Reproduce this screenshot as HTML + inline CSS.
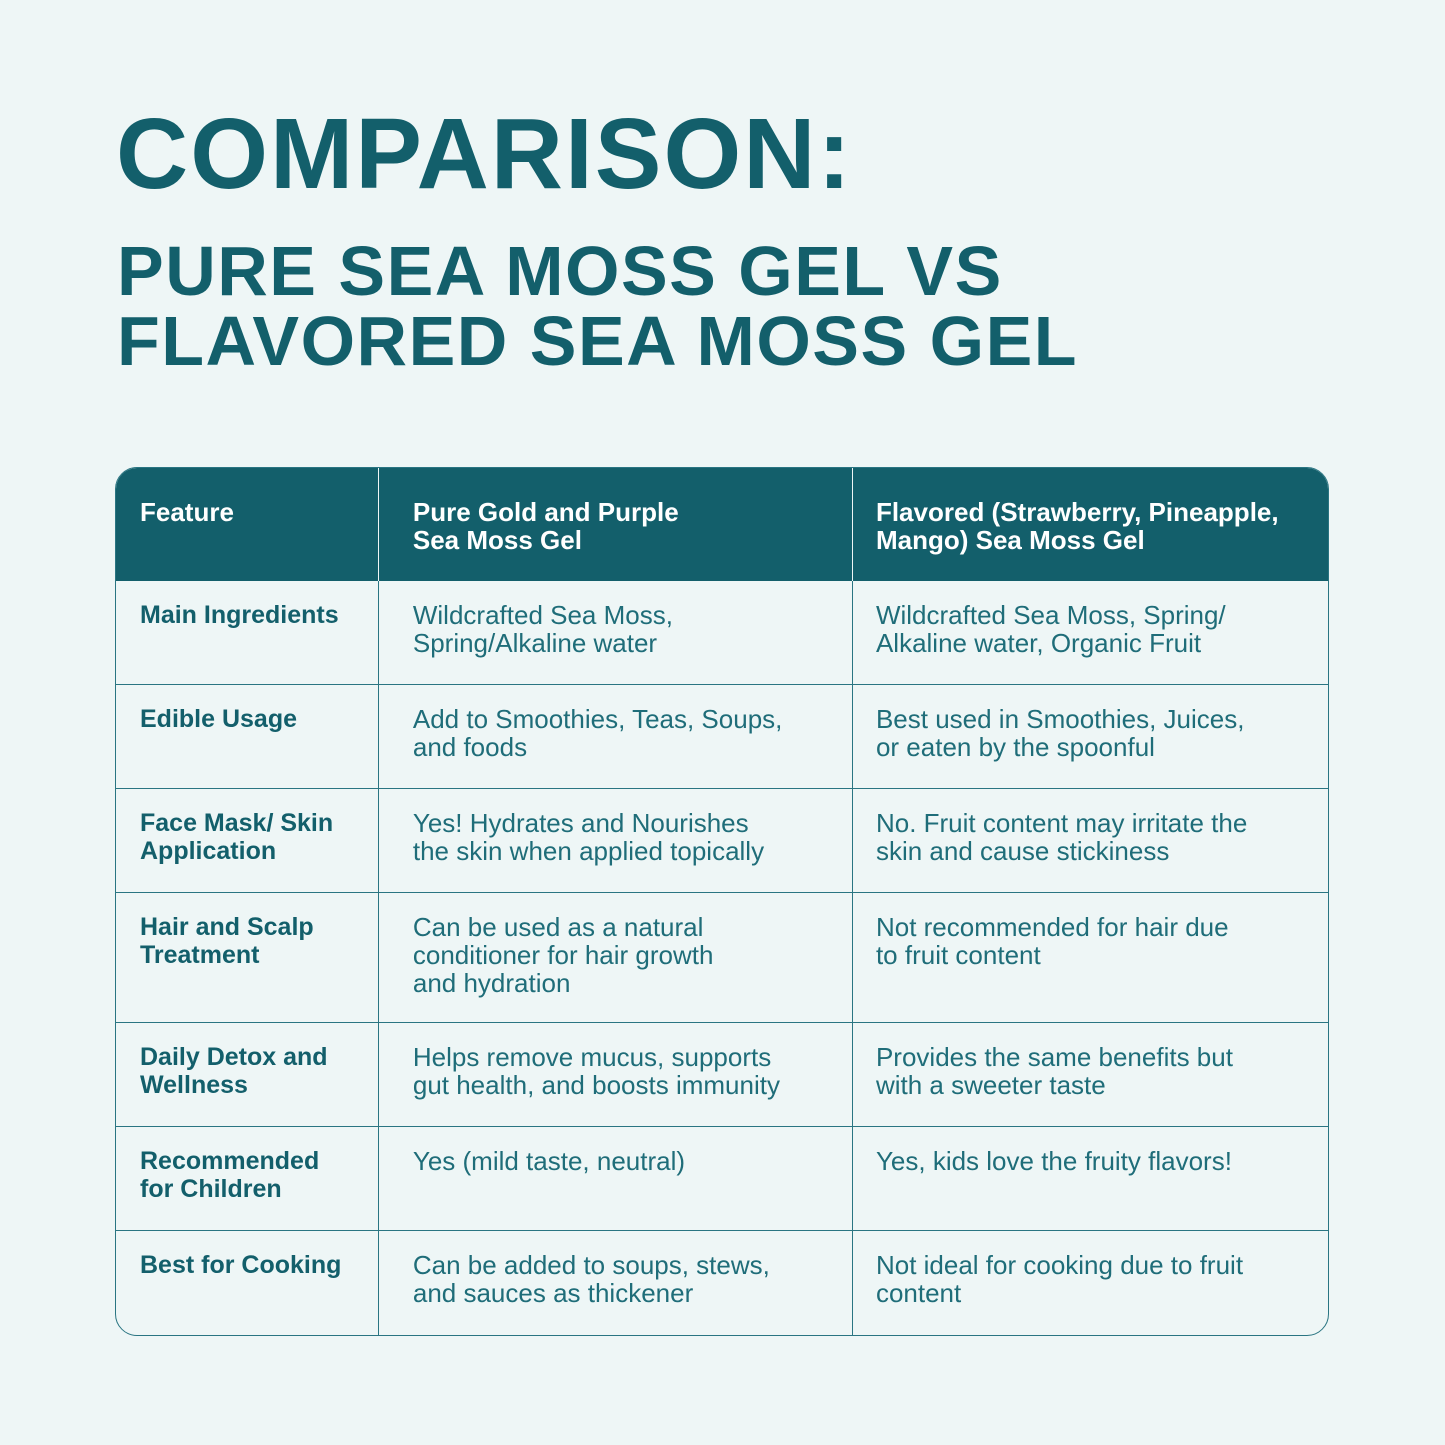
<!DOCTYPE html>
<html><head><meta charset="utf-8">
<style>
html,body{margin:0;padding:0;}
body{width:1445px;height:1445px;background:#eef6f6;position:relative;font-family:"Liberation Sans",sans-serif;color:#135f6b;overflow:hidden;}
.t1{position:absolute;left:116px;top:94px;font-size:100px;font-weight:bold;line-height:120px;letter-spacing:2px;margin:0;}
.t2{position:absolute;left:117px;top:236px;font-size:70px;font-weight:bold;line-height:70px;letter-spacing:1.5px;margin:0;}
table{position:absolute;left:115px;top:467px;width:1214px;border-collapse:separate;border-spacing:0;border:1.5px solid #2a7582;border-radius:22px;overflow:hidden;}
th,td{text-align:left;vertical-align:top;padding:20px 20px 0 34px;font-size:26px;line-height:28px;border-right:1.5px solid #2a7582;border-bottom:1.5px solid #2a7582;box-sizing:border-box;}
th:first-child,td:first-child{padding-left:24px;}
th:last-child,td:last-child{border-right:none;padding-left:23px;}
tr:last-child td{border-bottom:none;}
th{background:#135f6b;color:#fff;height:113px;padding-top:30px;font-weight:bold;border-right-color:#eef6f6;border-bottom:none;}
td{height:104px;color:#1f6d79;}
td.f{font-weight:bold;color:#135f6b;font-size:25px;}
tr.tall td{height:130px;}
</style></head><body>
<h1 class="t1">COMPARISON:</h1>
<h2 class="t2">PURE SEA MOSS GEL VS<br>FLAVORED SEA MOSS GEL</h2>
<table>
<colgroup><col style="width:263px"><col style="width:475px"><col style="width:476px"></colgroup>
<tr><th>Feature</th><th>Pure Gold and Purple<br>Sea Moss Gel</th><th>Flavored (Strawberry, Pineapple,<br>Mango) Sea Moss Gel</th></tr>
<tr><td class="f">Main Ingredients</td><td>Wildcrafted Sea Moss,<br>Spring/Alkaline water</td><td>Wildcrafted Sea Moss, Spring/<br>Alkaline water, Organic Fruit</td></tr>
<tr><td class="f">Edible Usage</td><td>Add to Smoothies, Teas, Soups,<br>and foods</td><td>Best used in Smoothies, Juices,<br>or eaten by the spoonful</td></tr>
<tr><td class="f">Face Mask/ Skin<br>Application</td><td>Yes! Hydrates and Nourishes<br>the skin when applied topically</td><td>No. Fruit content may irritate the<br>skin and cause stickiness</td></tr>
<tr class="tall"><td class="f">Hair and Scalp<br>Treatment</td><td>Can be used as a natural<br>conditioner for hair growth<br>and hydration</td><td>Not recommended for hair due<br>to fruit content</td></tr>
<tr><td class="f">Daily Detox and<br>Wellness</td><td>Helps remove mucus, supports<br>gut health, and boosts immunity</td><td>Provides the same benefits but<br>with a sweeter taste</td></tr>
<tr><td class="f">Recommended<br>for Children</td><td>Yes (mild taste, neutral)</td><td>Yes, kids love the fruity flavors!</td></tr>
<tr><td class="f">Best for Cooking</td><td>Can be added to soups, stews,<br>and sauces as thickener</td><td>Not ideal for cooking due to fruit<br>content</td></tr>
</table>
</body></html>
